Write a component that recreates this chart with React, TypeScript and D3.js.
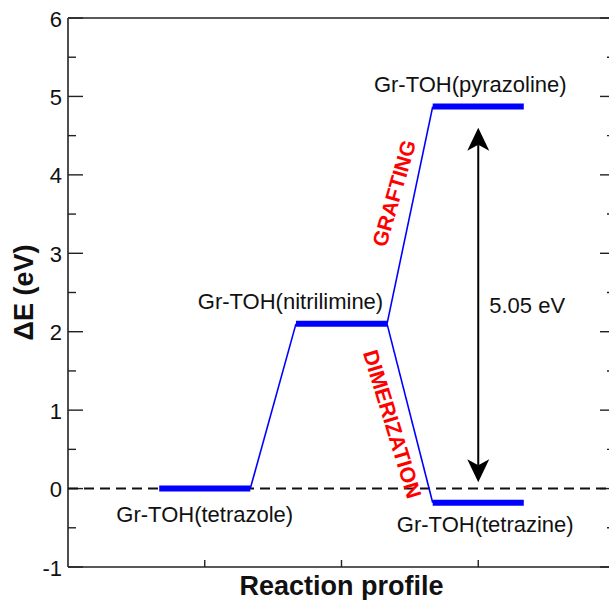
import React from "react";
import * as d3 from "d3";

// ---- data ----
const levelNames = ["Gr-TOH(tetrazole)", "Gr-TOH(nitrilimine)", "Gr-TOH(pyrazoline)", "Gr-TOH(tetrazine)"];
const levelStart = [0.667, 1.667, 2.667, 2.667];
const levelEnd = [1.333, 2.333, 3.333, 3.333];
const levelEnergy = [0, 2.1, 4.87, -0.18];
// connections: [fromLevelIndex, toLevelIndex]
const links: [number, number][] = [[0, 1], [1, 2], [1, 3]];
const yTicksMajor = [-1, 0, 1, 2, 3, 4, 5, 6];
const yTicksMinor = [-0.5, 0.5, 1.5, 2.5, 3.5, 4.5, 5.5];
const xTicks = [1, 2, 3];
const gapLabel = "5.05 eV";
const arrowX = 3;
const arrowTop = 4.6;
const arrowBottom = 0.08;
const processNames = ["GRAFTING", "DIMERIZATION"];

// ---- layout (pixel offsets only) ----
const labelLayout = [
  { dx: 0, dy: 33 },
  { dx: -51, dy: -15 },
  { dx: -8, dy: -15 },
  { dx: 7, dy: 29 },
];

const W = 609;
const H = 600;
const left = 68, right = 615, top = 18, bottom = 567;

export default function App() {
  const x = d3.scaleLinear().domain([0, 4]).range([left, right]);
  const y = d3.scaleLinear().domain([-1, 6]).range([bottom, top]);
  const font = "'Liberation Sans', Arial, Helvetica, sans-serif";
  const axisColor = "#222";

  const headW = 11, headL = 23, notch = 6;
  const upTip = y(arrowTop);
  const downTip = y(arrowBottom);
  const ax = x(arrowX);
  const upHead = `M${ax},${upTip} L${ax + headW},${upTip + headL} L${ax},${upTip + headL - notch} L${ax - headW},${upTip + headL} Z`;
  const downHead = `M${ax},${downTip} L${ax + headW},${downTip - headL} L${ax},${downTip - headL + notch} L${ax - headW},${downTip - headL} Z`;

  const l1 = links[1], l2 = links[2];
  const gx1 = (x(levelEnd[l1[0]]) + x(levelStart[l1[1]])) / 2;
  const gy1 = (y(levelEnergy[l1[0]]) + y(levelEnergy[l1[1]])) / 2;
  const gx2 = (x(levelEnd[l2[0]]) + x(levelStart[l2[1]])) / 2;
  const gy2 = (y(levelEnergy[l2[0]]) + y(levelEnergy[l2[1]])) / 2;

  return (
    <svg width={W} height={H} style={{ position: "absolute", left: 0, top: 0, background: "#fff" }} fontFamily={font}>
      <rect x={0} y={0} width={W} height={H} fill="#fff" />
      {/* frame */}
      <line x1={left} y1={top} x2={left} y2={bottom} stroke={axisColor} strokeWidth={1.6} />
      <line x1={left} y1={top} x2={right} y2={top} stroke={axisColor} strokeWidth={1.6} />
      <line x1={left} y1={bottom} x2={right} y2={bottom} stroke={axisColor} strokeWidth={1.6} />
      <line x1={right} y1={top} x2={right} y2={bottom} stroke={axisColor} strokeWidth={1.6} />
      {/* y ticks */}
      {yTicksMajor.map((t) => (
        <g key={"M" + t}>
          <line x1={left} x2={left + 15} y1={y(t)} y2={y(t)} stroke={axisColor} strokeWidth={1.4} />
          <line x1={right - 15} x2={right} y1={y(t)} y2={y(t)} stroke={axisColor} strokeWidth={1.4} />
          <text x={left - 6} y={y(t) + 1} textAnchor="end" dominantBaseline="central" fontSize={22} fill="#111">
            {t}
          </text>
        </g>
      ))}
      {yTicksMinor.map((t) => (
        <g key={"m" + t}>
          <line x1={left} x2={left + 8} y1={y(t)} y2={y(t)} stroke={axisColor} strokeWidth={1.4} />
          <line x1={right - 8} x2={right} y1={y(t)} y2={y(t)} stroke={axisColor} strokeWidth={1.4} />
        </g>
      ))}
      {xTicks.map((t) => (
        <line key={"x" + t} x1={x(t)} x2={x(t)} y1={bottom} y2={bottom - 7} stroke={axisColor} strokeWidth={1.4} />
      ))}
      {/* zero dashed line */}
      <line x1={left} x2={right} y1={y(0)} y2={y(0)} stroke="#111" strokeWidth={2} strokeDasharray="10,6" />
      {/* connectors */}
      {links.map(([a, b], i) => (
        <line
          key={"c" + i}
          x1={x(levelEnd[a])}
          y1={y(levelEnergy[a])}
          x2={x(levelStart[b])}
          y2={y(levelEnergy[b])}
          stroke="#0000ff"
          strokeWidth={1.6}
        />
      ))}
      {/* levels */}
      {levelNames.map((n, i) => (
        <line
          key={"l" + i}
          x1={x(levelStart[i])}
          x2={x(levelEnd[i])}
          y1={y(levelEnergy[i])}
          y2={y(levelEnergy[i])}
          stroke="#0000ff"
          strokeWidth={6}
        />
      ))}
      {levelNames.map((n, i) => (
        <text
          key={"t" + i}
          x={(x(levelStart[i]) + x(levelEnd[i])) / 2 + labelLayout[i].dx}
          y={y(levelEnergy[i]) + labelLayout[i].dy}
          textAnchor="middle"
          fontSize={22}
          fill="#111"
        >
          {n}
        </text>
      ))}
      {/* arrow */}
      <line x1={ax} x2={ax} y1={upTip + headL - notch} y2={downTip - headL + notch} stroke="#000" strokeWidth={2} />
      <path d={upHead} fill="#000" />
      <path d={downHead} fill="#000" />
      <text x={ax + 11} y={y((arrowTop + arrowBottom) / 2) + 8} fontSize={22} fill="#111">
        {gapLabel}
      </text>
      {/* process labels */}
      <text
        transform={`translate(${gx1 - 16},${gy1 - 22}) rotate(-74)`}
        textAnchor="middle"
        dominantBaseline="central"
        fontSize={21}
        fontWeight="bold"
        fill="#ff0000"
      >
        {processNames[0]}
      </text>
      <text
        transform={`translate(${gx2 - 18},${gy2 + 11}) rotate(73)`}
        textAnchor="middle"
        dominantBaseline="central"
        fontSize={21.5}
        fontWeight="bold"
        fill="#ff0000"
      >
        {processNames[1]}
      </text>
      {/* axis titles */}
      <text
        transform={`translate(24,${(top + bottom) / 2}) rotate(-90)`}
        textAnchor="middle"
        dominantBaseline="central"
        fontSize={27}
        fontWeight="bold"
        fill="#111"
      >
        ΔE (eV)
      </text>
      <text x={(left + right) / 2} y={595} textAnchor="middle" fontSize={27} fontWeight="bold" fill="#111">
        Reaction profile
      </text>
    </svg>
  );
}
